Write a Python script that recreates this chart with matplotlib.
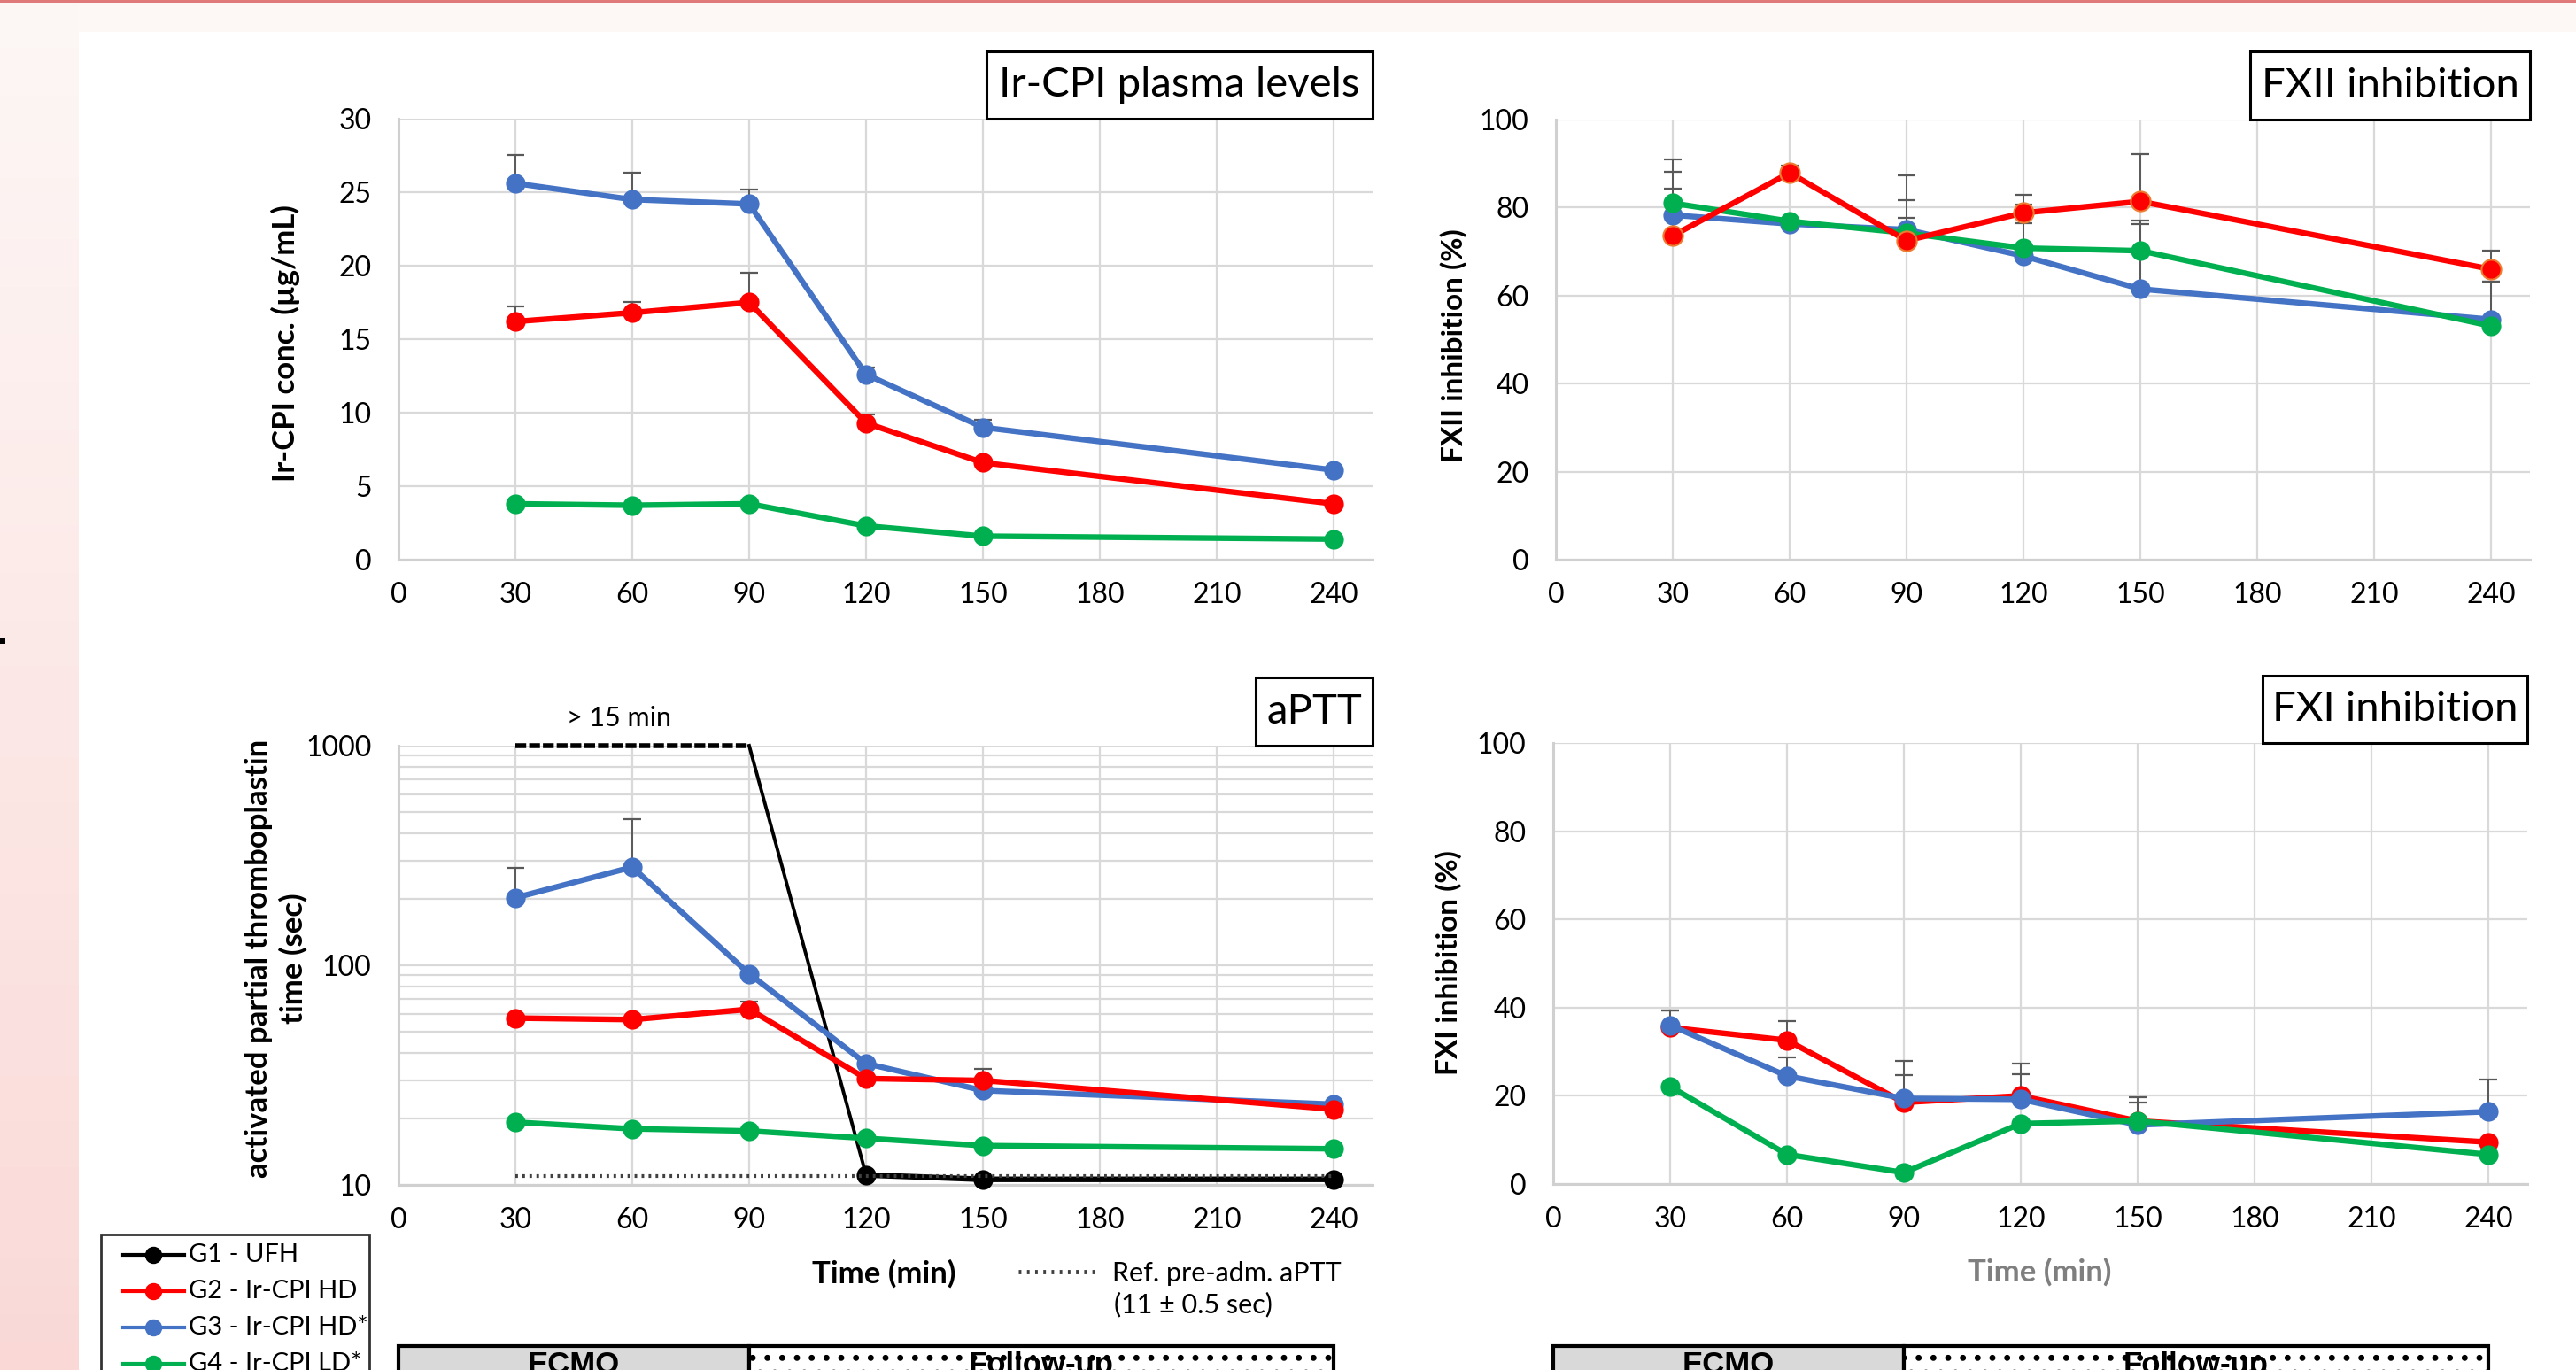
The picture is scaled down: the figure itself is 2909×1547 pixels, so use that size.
import numpy as np
import matplotlib
matplotlib.use("Agg")
import matplotlib.pyplot as plt
from matplotlib.patches import Rectangle
from matplotlib.lines import Line2D
from matplotlib.ticker import FixedLocator, NullFormatter, FixedFormatter

plt.rcParams['font.family'] = ['Lato', 'DejaVu Sans']
plt.rcParams['hatch.linewidth'] = 2.5

# ---------------- data ----------------
times = [30, 60, 90, 120, 150, 240]
x_ticks = [0, 30, 60, 90, 120, 150, 180, 210, 240]

# Ir-CPI plasma levels (ug/mL)
ircpi_g2 = [16.2, 16.8, 17.5, 9.3, 6.6, 3.8]
ircpi_g3 = [25.6, 24.5, 24.2, 12.6, 9.0, 6.1]
ircpi_g4 = [3.8, 3.7, 3.8, 2.3, 1.6, 1.4]
ircpi_g2_err = [1.0, 0.7, 2.0, 0.6, 0.0, 0.0]
ircpi_g3_err = [1.9, 1.8, 1.0, 0.5, 0.5, 0.0]
ircpi_g4_err = [0, 0, 0, 0, 0, 0]

# aPTT (sec)
aptt_g1_times = [120, 150, 240]
aptt_g1 = [11.1, 10.6, 10.6]
aptt_g1_over_times = [30, 90]      # "> 15 min" (beyond scale)
aptt_g1_over = [1000, 1000]
aptt_g1_drop_times = [90, 120]
aptt_g1_drop = [1000, 11.1]
aptt_g2 = [57.5, 56.6, 63.1, 30.5, 29.9, 22.1]
aptt_g3 = [203, 280, 91.5, 35.7, 26.9, 23.3]
aptt_g4 = [19.3, 18.0, 17.6, 16.3, 15.1, 14.6]
aptt_g2_err = [0, 0, 5, 0, 4, 0]
aptt_g3_err = [74, 181, 0, 0, 0, 0]
aptt_g4_err = [0, 0, 0, 0, 0, 0]
aptt_ref = 11
aptt_ref_times = [30, 240]

# FXII inhibition (%)
fxii_g2 = [73.6, 87.9, 72.5, 78.8, 81.4, 66.0]
fxii_g3 = [78.3, 76.3, 75.0, 69.0, 61.5, 54.6]
fxii_g4 = [81.0, 76.9, 74.2, 70.8, 70.2, 53.1]
fxii_g2_err = [10.7, 1.7, 5.1, 4.0, 10.7, 4.2]
fxii_g3_err = [9.8, 0, 12.3, 7.5, 14.8, 8.6]
fxii_g4_err = [10.0, 0, 7.4, 9.9, 6.9, 10.1]

# FXI inhibition (%)
fxi_g2 = [35.5, 32.6, 18.5, 20.0, 14.3, 9.5]
fxi_g3 = [36.0, 24.5, 19.4, 19.2, 13.4, 16.4]
fxi_g4 = [22.1, 6.7, 2.6, 13.7, 14.3, 6.7]
fxi_g2_err = [3.9, 4.3, 9.4, 7.3, 4.2, 0]
fxi_g3_err = [3.4, 4.3, 5.2, 5.7, 6.3, 7.2]
fxi_g4_err = [0, 0, 0, 0, 0, 0]

legend_labels = ["G1 - UFH", "G2 - Ir-CPI HD", "G3 - Ir-CPI HD*", "G4 - Ir-CPI LD*"]
colors = {"G1": "#000000", "G2": "#FF0000", "G3": "#4472C4", "G4": "#00B050"}

# ---------------- figure ----------------
W, H = 2909, 1547
fig = plt.figure(figsize=(W / 100, H / 100), dpi=100)
fig.patch.set_facecolor("white")


def add_ax(x0, y0, x1, y1, **kw):
    return fig.add_axes([x0 / W, 1 - y1 / H, (x1 - x0) / W, (y1 - y0) / H], **kw)


# slide background: pink strip on left + top band
bg = add_ax(0, 0, 89, H)
grad = np.array([[253, 247, 246], [252, 234, 232], [250, 220, 218], [249, 216, 214]]) / 255
pos = np.array([0, 700, 1420, 1547])
yy = np.arange(H)
img = np.stack([np.interp(yy, pos, grad[:, c]) for c in range(3)], axis=1)[:, None, :]
bg.imshow(img, aspect="auto", extent=[0, 1, H, 0])
bg.set_axis_off()
fig.add_artist(Rectangle((89 / W, 1 - 36 / H), 1, 36 / H, transform=fig.transFigure,
                         facecolor=(253 / 255, 247 / 255, 246 / 255), edgecolor="none"))
fig.add_artist(Rectangle((0, 1 - 3 / H), 1, 3 / H, transform=fig.transFigure,
                         facecolor="#E07A7A", edgecolor="none"))
fig.add_artist(Rectangle((0, 1 - 727 / H), 6 / W, 7 / H, transform=fig.transFigure,
                         facecolor="black", edgecolor="none"))

GRID = "#D9D9D9"
TICK_FS = 23
LW = 4.6
MS = 16


def style(ax, ylim, yticks, log=False):
    ax.set_xlim(0, 250)
    if log:
        ax.set_yscale("log")
    ax.set_ylim(*ylim)
    ax.set_facecolor("none")
    for s in ["top", "right"]:
        ax.spines[s].set_visible(False)
    for s in ["left", "bottom"]:
        ax.spines[s].set_color("#D0D0D0")
        ax.spines[s].set_linewidth(2.2)
    ax.set_xticks(x_ticks)
    ax.set_xticklabels([str(t) for t in x_ticks])
    ax.yaxis.set_major_locator(FixedLocator(yticks))
    ax.yaxis.set_major_formatter(FixedFormatter([str(t) for t in yticks]))
    ax.tick_params(axis="both", length=0, labelsize=TICK_FS, colors="black")
    ax.tick_params(axis="x", pad=18)
    ax.tick_params(axis="y", pad=22)
    ax.grid(True, which="major", color=GRID, linewidth=1.6)
    ax.set_axisbelow(True)


def series(ax, y, err, color, mec=None):
    if any(e > 0 for e in err):
        ax.errorbar(times, y, yerr=[np.zeros(len(err)), err], fmt="none",
                    ecolor="#595959", elinewidth=1.4, capsize=7, capthick=1.6, zorder=2)
    ax.plot(times, y, color=color, lw=LW, marker="o", ms=MS,
            mec=mec if mec else color, mew=1.5 if mec else 0, zorder=3, clip_on=False)


def title_box(x0, y0, x1, y1, text, fs=28):
    fig.add_artist(Rectangle((x0 / W, 1 - y1 / H), (x1 - x0) / W, (y1 - y0) / H,
                             transform=fig.transFigure, facecolor="white",
                             edgecolor="black", linewidth=2.2, zorder=5))
    fig.text((x0 + x1) / 2 / W, 1 - (y0 + y1) / 2 / H, text, ha="center", va="center",
             fontsize=fs, zorder=6)


# ---- panel 1: Ir-CPI plasma levels ----
ax1 = add_ax(450, 134, 1550, 632)
style(ax1, (0, 30), [0, 5, 10, 15, 20, 25, 30])
series(ax1, ircpi_g3, ircpi_g3_err, colors["G3"])
series(ax1, ircpi_g2, ircpi_g2_err, colors["G2"])
series(ax1, ircpi_g4, ircpi_g4_err, colors["G4"])
fig.text(322 / W, 1 - 388 / H, "Ir-CPI conc. (µg/mL)", rotation=90, ha="center",
         va="center", fontsize=25, fontweight="bold")
title_box(1114, 58, 1550, 134, "Ir-CPI plasma levels", fs=34)

# ---- panel 2: aPTT ----
ax2 = add_ax(450, 842, 1550, 1338)
style(ax2, (10, 1000), [10, 100, 1000], log=True)
ax2.yaxis.set_minor_locator(FixedLocator([v * d for d in (10, 100) for v in range(2, 10)]))
ax2.yaxis.set_minor_formatter(NullFormatter())
ax2.tick_params(axis="y", which="minor", length=0)
ax2.grid(True, which="minor", axis="y", color=GRID, linewidth=1.6)
ax2.plot(aptt_g1_over_times, aptt_g1_over, color="black", lw=4, ls=(0, (2.2, 0.6)),
         zorder=3, clip_on=False)
ax2.plot(aptt_g1_drop_times, aptt_g1_drop, color="black", lw=2.8, zorder=3, clip_on=False)
ax2.plot(aptt_g1_times, aptt_g1, color="black", lw=LW, marker="o", ms=MS, mew=0,
         zorder=3, clip_on=False)
ax2.plot(aptt_ref_times, [aptt_ref, aptt_ref], color="#404040", lw=3, ls=(0, (0.7, 1.2)),
         zorder=4)
series(ax2, aptt_g3, aptt_g3_err, colors["G3"])
series(ax2, aptt_g2, aptt_g2_err, colors["G2"])
series(ax2, aptt_g4, aptt_g4_err, colors["G4"])
fig.text(699 / W, 1 - 811 / H, "> 15 min", ha="center", va="center", fontsize=22)
fig.text(312 / W, 1 - 1082 / H, "activated partial thromboplastin\ntime (sec)",
         rotation=90, ha="center", va="center", fontsize=25, fontweight="bold",
         multialignment="center", linespacing=1.25)
title_box(1418, 765, 1550, 842, "aPTT", fs=34)
fig.text(998 / W, 1 - 1438 / H, "Time (min)", ha="center", va="center", fontsize=25,
         fontweight="bold")
fig.add_artist(Line2D([1150 / W, 1236 / W], [1 - 1436 / H, 1 - 1436 / H],
                      transform=fig.transFigure, color="#404040", lw=3.5,
                      ls=(0, (0.6, 1.3))))
fig.text(1256 / W, 1 - 1438 / H, "Ref. pre-adm. aPTT", ha="left", va="center", fontsize=22)
fig.text(1258 / W, 1 - 1473 / H, "(11 ± 0.5 sec)", ha="left", va="center", fontsize=22)

# ---- panel 3: FXII inhibition ----
ax3 = add_ax(1757, 135, 2857, 632)
style(ax3, (0, 100), [0, 20, 40, 60, 80, 100])
series(ax3, fxii_g3, fxii_g3_err, colors["G3"])
series(ax3, fxii_g4, fxii_g4_err, colors["G4"])
series(ax3, fxii_g2, fxii_g2_err, colors["G2"], mec="#ED7D31")
fig.text(1642 / W, 1 - 390 / H, "FXII inhibition (%)", rotation=90, ha="center",
         va="center", fontsize=24, fontweight="bold")
title_box(2541, 58, 2857, 135, "FXII inhibition", fs=34)

# ---- panel 4: FXI inhibition ----
ax4 = add_ax(1754, 839, 2854, 1337)
style(ax4, (0, 100), [0, 20, 40, 60, 80, 100])
series(ax4, fxi_g2, fxi_g2_err, colors["G2"])
series(ax4, fxi_g3, fxi_g3_err, colors["G3"])
series(ax4, fxi_g4, fxi_g4_err, colors["G4"])
fig.text(1636 / W, 1 - 1087 / H, "FXI inhibition (%)", rotation=90, ha="center",
         va="center", fontsize=24, fontweight="bold")
title_box(2555, 763, 2854, 839, "FXI inhibition", fs=34)
fig.text(2303 / W, 1 - 1436 / H, "Time (min)", ha="center", va="center", fontsize=25,
         fontweight="bold", color="#7F7F7F")

# ---- legend box ----
fig.add_artist(Rectangle((114 / W, 1 - 1600 / H), (417 - 114) / W, (1600 - 1394) / H,
                         transform=fig.transFigure, facecolor="white", edgecolor="#333333",
                         linewidth=2))
for i, (lab, key) in enumerate(zip(legend_labels, ["G1", "G2", "G3", "G4"])):
    yp = 1 - (1417 + 41 * i) / H
    fig.add_artist(Line2D([139 / W, 208 / W], [yp, yp], transform=fig.transFigure,
                          color=colors[key], lw=3))
    fig.add_artist(Line2D([173 / W], [yp], transform=fig.transFigure, color=colors[key],
                          marker="o", ms=14, mew=0))
    fig.text(213 / W, yp, lab, ha="left", va="center", fontsize=21)

# ---- ECMO / Follow-up phase bars ----
phases = [("ECMO", 0, 90), ("Follow-up", 90, 240)]
for ax in (ax2, ax4):
    pos_ax = ax.get_position()
    bar = fig.add_axes([pos_ax.x0, 1 - 1600 / H, pos_ax.width, (1600 - 1520) / H])
    bar.set_xlim(ax.get_xlim())
    bar.set_ylim(0, 1)
    bar.set_axis_off()
    for name, a, b in phases:
        if name == "ECMO":
            bar.add_patch(Rectangle((a, 0), b - a, 1, facecolor="#D9D9D9",
                                    edgecolor="black", lw=3, clip_on=False))
        else:
            bar.add_patch(Rectangle((a, 0), b - a, 1, facecolor="white", hatch=".",
                                    edgecolor="black", lw=3, clip_on=False))
        bar.text((a + b) / 2, 1 - 5 / 80, name, ha="center", va="top", fontsize=25,
                 fontweight="bold", family=["Liberation Sans Narrow", "Liberation Sans"])

fig.savefig("out.png", dpi=100)
